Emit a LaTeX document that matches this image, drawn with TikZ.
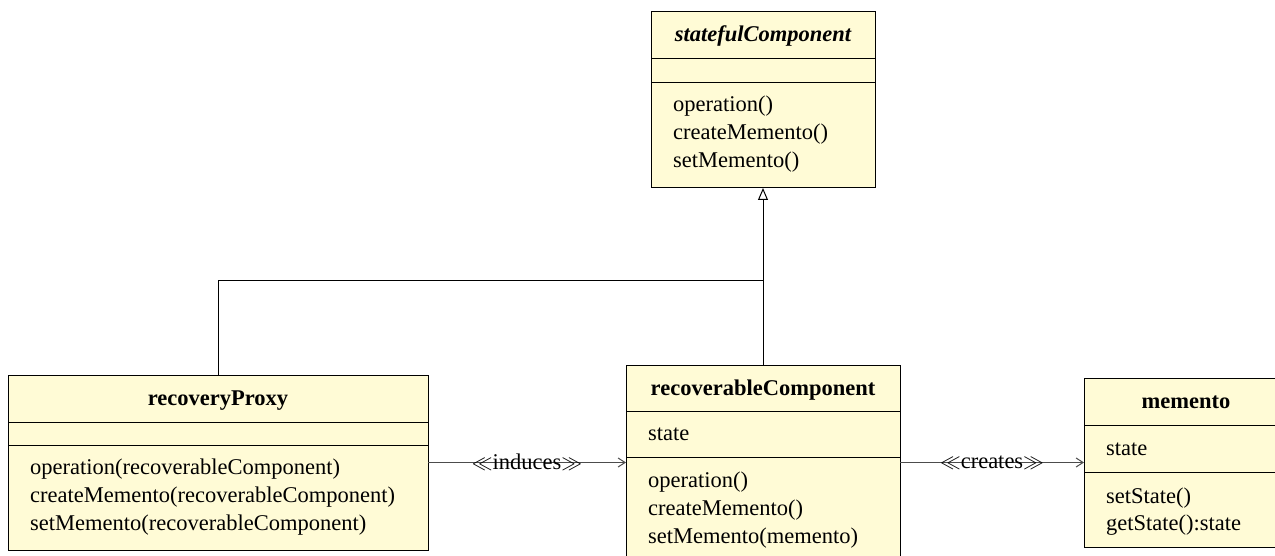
\documentclass[tikz,border=0pt]{standalone}
\usepackage{fontspec}
\setmainfont{Liberation Serif}
\usetikzlibrary{arrows.meta}
\definecolor{classfill}{RGB}{255,251,214}
\begin{document}
\begin{tikzpicture}[x=1pt,y=-1pt,
  font=\fontsize{22.5}{27}\selectfont,
  classbox/.style={draw=black, fill=classfill, line width=1pt, anchor=north west,
    inner sep=0pt, outer sep=0pt},
  divider/.style={line width=1pt},
  member/.style={anchor=base west, inner sep=0pt},
  classname/.style={anchor=base, inner sep=0pt, font=\fontsize{22.5}{27}\selectfont\bfseries},
  dependency/.style={line width=1pt, draw=black!70,
    -{Straight Barb[length=7pt,width=9pt,line width=1pt]}},
  stereotype/.style={midway, inner sep=0pt, text=black},
  generalization/.style={line width=1pt, -{Triangle[open,length=12pt,width=10pt,fill=white]}}
]
\useasboundingbox (0,0) rectangle (1275,556);
\clip (0,0) rectangle (1275,556);

% statefulComponent (abstract)
\node[classbox, minimum width=224pt, minimum height=176pt] (sc) at (651,12) {};
\draw[divider] (651,59) -- (875,59);
\draw[divider] (651,83) -- (875,83);
\node[classname, font=\fontsize{22.5}{27}\selectfont\bfseries\itshape] (scname) at (763,42) {statefulComponent};
\node[member] (sc1) at (673,112) {operation()};
\node[member] (sc2) at (673,140) {createMemento()};
\node[member] (sc3) at (673,168) {setMemento()};

% recoveryProxy
\node[classbox, minimum width=420pt, minimum height=175pt] (rp) at (8,375) {};
\draw[divider] (8,422) -- (428,422);
\draw[divider] (8,445) -- (428,445);
\node[classname] (rpname) at (218,405) {recoveryProxy};
\node[member] (rp1) at (30,474) {operation(recoverableComponent)};
\node[member] (rp2) at (30,502) {createMemento(recoverableComponent)};
\node[member] (rp3) at (30,530) {setMemento(recoverableComponent)};

% recoverableComponent
\node[classbox, minimum width=274pt, minimum height=196pt] (rc) at (626,365) {};
\draw[divider] (626,411) -- (900,411);
\draw[divider] (626,457) -- (900,457);
\node[classname] (rcname) at (763,395) {recoverableComponent};
\node[member] (rcattr) at (648,440) {state};
\node[member] (rc1) at (648,487) {operation()};
\node[member] (rc2) at (648,515) {createMemento()};
\node[member] (rc3) at (648,543) {setMemento(memento)};

% memento
\node[classbox, minimum width=204pt, minimum height=169pt] (m) at (1084,378) {};
\draw[divider] (1084,425) -- (1288,425);
\draw[divider] (1084,472) -- (1288,472);
\node[classname] (mname) at (1186,408) {memento};
\node[member] (mattr) at (1106,455) {state};
\node[member] (m1) at (1106,503) {setState()};
\node[member] (m2) at (1106,530) {getState():state};

% generalization
\coordinate (join) at (763,281);
\draw[generalization] (rc.north) -- (sc.south);
\draw[line width=1pt] (rp.north) |- (join);

% dependencies
\draw[dependency] (rp.east) -- (rp.east -| rc.west)
  node[stereotype] (induces) {$\ll$induces$\gg$};
\draw[dependency] (rc.east |- rp.east) -- (rp.east -| m.west)
  node[stereotype] (creates) {$\ll$creates$\gg$};
\end{tikzpicture}
\end{document}
